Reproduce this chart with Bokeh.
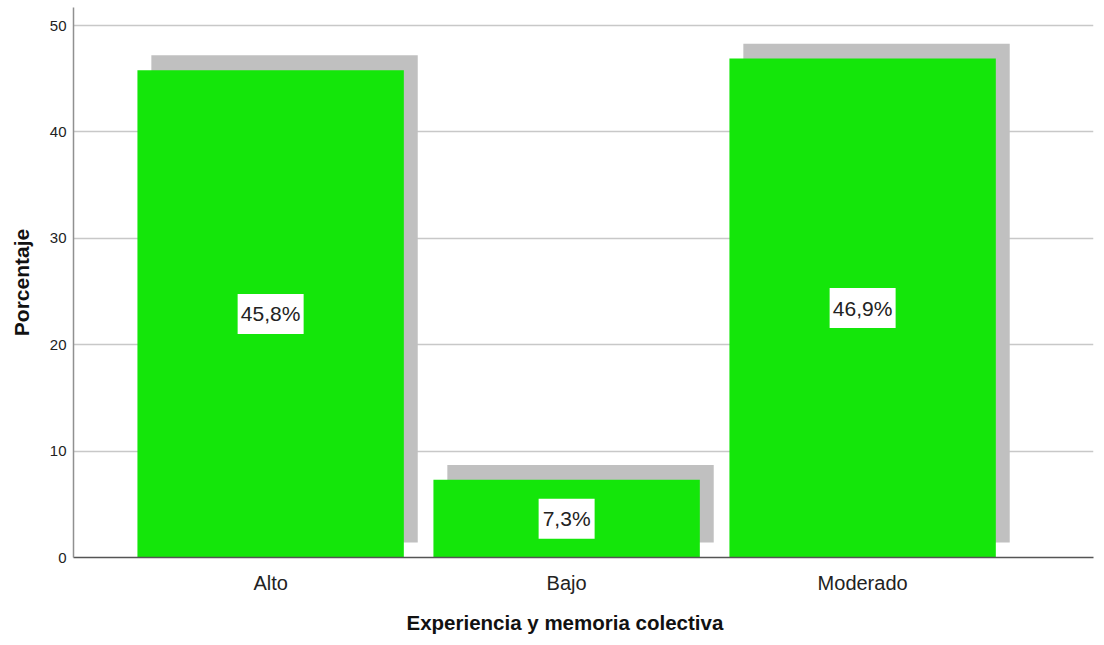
from bokeh.plotting import figure
from bokeh.models import Range1d, FixedTicker, Title
from bokeh.core.properties import value
from bokeh.embed import file_html
from bokeh.resources import INLINE

categories = ["Alto", "Bajo", "Moderado"]
percentages = [45.8, 7.3, 46.9]
labels = ["45,8%", "7,3%", "46,9%"]
y_ticks = [0, 10, 20, 30, 40, 50]

xs = [i + 1 for i in range(len(categories))]
shadow_dx = 0.047
shadow_dy = 1.4

p = figure(width=1102, height=645, output_backend="svg", toolbar_location=None,
           x_range=Range1d(0.334, 3.78), y_range=Range1d(0, 51.7),
           min_border_left=73, min_border_right=9, min_border_top=7, min_border_bottom=84)
p.outline_line_color = None
p.background_fill_color = "white"

# shadows
p.vbar(x=[x + shadow_dx for x in xs], width=0.9,
       bottom=shadow_dy, top=[v + shadow_dy for v in percentages],
       fill_color="#c0c0c0", line_color=None)
# bars
p.vbar(x=xs, width=0.9, bottom=0, top=percentages, fill_color="#14E60A", line_color=None)

# label boxes
mids = [v / 2 for v in percentages]
p.rect(x=xs, y=mids, width=[66, 56, 66], height=40, width_units="screen", height_units="screen",
       fill_color="white", line_color=None)
p.text(x=xs, y=mids, text=labels, text_align="center", text_baseline="middle",
       text_font=value("Liberation Sans"), text_font_size="21px", text_color="#222222")

# grid
p.xgrid.grid_line_color = None
p.ygrid.grid_line_color = "#c8c8c8"
p.ygrid.grid_line_width = 1.5
p.ygrid.ticker = FixedTicker(ticks=y_ticks)

# y axis
p.yaxis.ticker = FixedTicker(ticks=y_ticks)
p.yaxis.axis_line_color = "#909090"
p.yaxis.axis_line_width = 1.5
p.yaxis.major_tick_line_color = None
p.yaxis.major_tick_out = 0
p.yaxis.major_tick_in = 0
p.yaxis.minor_tick_line_color = None
p.yaxis.major_label_text_font = "Liberation Sans"
p.yaxis.major_label_text_font_size = "15px"
p.yaxis.major_label_text_color = "#222222"
p.yaxis.major_label_standoff = 7
p.yaxis.axis_label = "Porcentaje"
p.yaxis.axis_label_text_font = "Liberation Sans"
p.yaxis.axis_label_text_font_style = "bold"
p.yaxis.axis_label_text_font_size = "21px"
p.yaxis.axis_label_text_color = "#111111"
p.yaxis.axis_label_standoff = 14

# x axis
p.xaxis.ticker = FixedTicker(ticks=xs)
p.xaxis.major_label_overrides = {x: c for x, c in zip(xs, categories)}
p.xaxis.axis_line_color = "#555555"
p.xaxis.axis_line_width = 1.5
p.xaxis.major_tick_line_color = None
p.xaxis.major_tick_out = 0
p.xaxis.major_tick_in = 0
p.xaxis.minor_tick_line_color = None
p.xaxis.major_label_text_font = "Liberation Sans"
p.xaxis.major_label_text_font_size = "20px"
p.xaxis.major_label_text_color = "#222222"
p.xaxis.major_label_standoff = 14

xtitle = Title(text="Experiencia y memoria colectiva", align="left", offset=333, standoff=24,
               text_font="Liberation Sans", text_font_style="bold",
               text_font_size="20.5px", text_color="#111111")
p.add_layout(xtitle, "below")

open("out.html", "w").write(file_html(p, INLINE))
